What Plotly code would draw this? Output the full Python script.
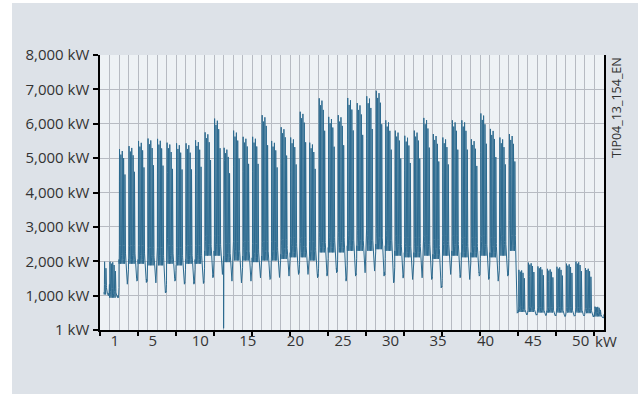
import plotly.graph_objects as go

# ---------------- data ----------------
# weekly values, week k spans x in [k-1, k]
week_peak = [2090, 1990, 5260, 5350, 5500, 5570, 5560, 5450, 5430, 5430,
             5520, 5750, 6150, 5300, 5800, 5620, 5620, 6250, 5500, 5900,
             5600, 6350, 5450, 6740, 6200, 6250, 6750, 6600, 6800, 6960,
             6100, 5800, 5650, 5800, 6170, 5700, 5600, 6100, 6100, 5550,
             6300, 5850, 5600, 5700, 1750, 1960, 1850, 1780, 1840, 1930,
             1990, 1800, 680]
week_base = [1100, 1000, 2050, 2050, 2050, 2000, 2000, 2050, 2000, 2050,
             2050, 2300, 2300, 2100, 2150, 2150, 2100, 2150, 2150, 2200,
             2250, 2250, 2150, 2400, 2400, 2400, 2450, 2450, 2450, 2500,
             2450, 2300, 2250, 2250, 2300, 2200, 2300, 2300, 2250, 2250,
             2300, 2250, 2300, 2450, 560, 560, 540, 540, 540, 540,
             540, 520, 420]
week_low = [1020, 950, 1360, 1450, 1410, 1400, 1100, 1450, 1360, 1360,
            1380, 1550, 1650, 1450, 1400, 1450, 1550, 1500, 1560, 1600,
            1650, 1650, 1550, 1600, 1700, 1450, 1600, 1700, 1750, 1600,
            1400, 1540, 1500, 1550, 1500, 1250, 1650, 1550, 1500, 1600,
            1500, 1450, 1600, 500, 450, 440, 430, 420, 400, 410,
            420, 390, 350]
first_day = 3            # data begins a few days into week 1
outage_week = 13         # short outage at the end of week 13
outage_kw = 50

# relative daily shapes (hourly) used to spread the weekly values over the days
weekday_scale = [1.0, 0.97, 0.99, 0.95, 0.86]
weekday_hours = ["b", "b", "b", "b", "b", "b", "b", "p", "p", "p", "p", "p",
                 "p", "p", "p", "p", "b", "b", "b", "b", "b", "b", "b", "b"]
weekday_shape = [1.0, 0.97, 0.95, 0.94, 0.95, 1.0, 1.2, 0.82, 0.97, 1.0,
                 0.98, 0.94, 0.9, 0.96, 0.93, 0.84, 1.3, 1.18, 1.12, 1.08,
                 1.06, 1.04, 1.02, 1.0]
saturday_mix = [0.0, 0.05, 0.1, 0.15, 0.2, 0.25, 0.2, 0.3, 0.35, 0.4, 0.38, 0.45,
                0.5, 0.55, 0.6, 0.62, 0.65, 0.7, 0.75, 0.8, 0.82, 0.85, 0.88, 0.9]
sunday_shape = [1.05, 1.02, 1.0, 0.98, 1.0, 1.0, 1.03, 1.05, 1.04, 1.02, 1.0, 1.0,
                1.02, 1.03, 1.02, 1.0, 1.0, 1.02, 1.05, 1.08, 1.1, 1.15, 1.2, 1.3]

y_tick_vals = [1, 1000, 2000, 3000, 4000, 5000, 6000, 7000, 8000]
y_tick_text = ["1 kW", "1,000 kW", "2,000 kW", "3,000 kW", "4,000 kW",
               "5,000 kW", "6,000 kW", "7,000 kW", "8,000 kW"]
x_tick_labels = ["1", "5", "10", "15", "20", "25", "30", "35", "40", "45", "50"]
x_tick_numbers = [1, 5, 10, 15, 20, 25, 30, 35, 40, 45, 50]
x_unit_label = "kW"
side_code = "TIP04_13_154_EN"

# ---------------- build series ----------------
t, v = [], []
for w in range(len(week_peak)):
    P, B, L = week_peak[w], week_base[w], week_low[w]
    for d in range(7):
        day = w * 7 + d
        if day < first_day:
            continue
        for h in range(24):
            if d < 5:
                ref = P * weekday_scale[d] if weekday_hours[h] == "p" else B
                val = ref * weekday_shape[h]
            elif d == 5:
                val = B + (L - B) * saturday_mix[h]
            else:
                val = L * sunday_shape[h]
            t.append((day + h / 24) / 7)
            v.append(val)
    if w + 1 == outage_week:
        t.append(outage_week)
        v.append(outage_kw)

LINE = "#2c6a8f"
GRID = "#b7bbc2"
TXT = "#333333"

fig = go.Figure()
fig.add_trace(go.Scatter(x=t, y=v, mode="lines", line=dict(color=LINE, width=1),
                         hoverinfo="skip", showlegend=False))
fig.add_trace(go.Scatter(x=[None], y=[None], xaxis="x2", mode="lines", showlegend=False, hoverinfo="skip"))
fig.add_trace(go.Scatter(x=[None], y=[None], xaxis="x3", mode="lines", showlegend=False, hoverinfo="skip"))

label_pos = [n + 0.55 for n in x_tick_numbers]

fig.update_layout(
    width=638, height=394,
    margin=dict(l=100, r=34, t=55, b=64, pad=0),
    paper_bgcolor="#dde2e8",
    plot_bgcolor="#eef2f5",
    showlegend=False,
    font=dict(family="Open Sans, sans-serif", size=15, color=TXT),
    xaxis=dict(range=[0, 53], tickmode="linear", tick0=0, dtick=1, showgrid=True,
               gridcolor=GRID, gridwidth=1, showticklabels=False, ticks="",
               showline=True, linecolor="black", linewidth=1.5, zeroline=False),
    xaxis2=dict(overlaying="x", anchor="y", side="bottom", range=[0, 53],
                tickmode="array", tickvals=label_pos, ticktext=x_tick_labels,
                showgrid=False, ticks="", showline=False, zeroline=False),
    xaxis3=dict(overlaying="x", anchor="y", side="bottom", range=[0, 53],
                tickmode="linear", tick0=0, dtick=4, ticks="outside", ticklen=5,
                tickcolor="black", tickwidth=1.5, showticklabels=False,
                showgrid=False, showline=False, zeroline=False),
    yaxis=dict(range=[0, 8000], tickmode="array", tickvals=y_tick_vals, ticktext=y_tick_text,
               showgrid=True, gridcolor=GRID, gridwidth=1.2, ticks="outside", ticklen=5,
               tickcolor="black", tickwidth=1.5, showline=True, linecolor="black",
               linewidth=1.5, mirror=True, zeroline=False, ticklabelstandoff=1),
    shapes=[
        dict(type="rect", xref="paper", yref="paper", x0=-0.4, x1=(12 - 100) / 504,
             y0=-0.4, y1=1.4, fillcolor="white", line=dict(width=0), layer="below"),
        dict(type="rect", xref="paper", yref="paper", x0=-0.4, x1=1.4,
             y0=(330 - 3) / 275, y1=1.4, fillcolor="white", line=dict(width=0), layer="below"),
    ],
    annotations=[
        dict(text=x_unit_label, xref="paper", x=(593 - 100) / 504, xanchor="left",
             yref="paper", y=(330 - 341) / 275, yanchor="middle", showarrow=False,
             font=dict(size=15, color=TXT)),
        dict(text=side_code, xref="paper", x=(616 - 100) / 504, xanchor="center",
             yref="paper", y=(330 - 108) / 275, yanchor="middle", textangle=-90,
             showarrow=False, font=dict(size=12.5, color=TXT)),
    ],
)

fig.write_html("out.html", post_script="document.body.style.margin='0';",
               config={"displayModeBar": False})
